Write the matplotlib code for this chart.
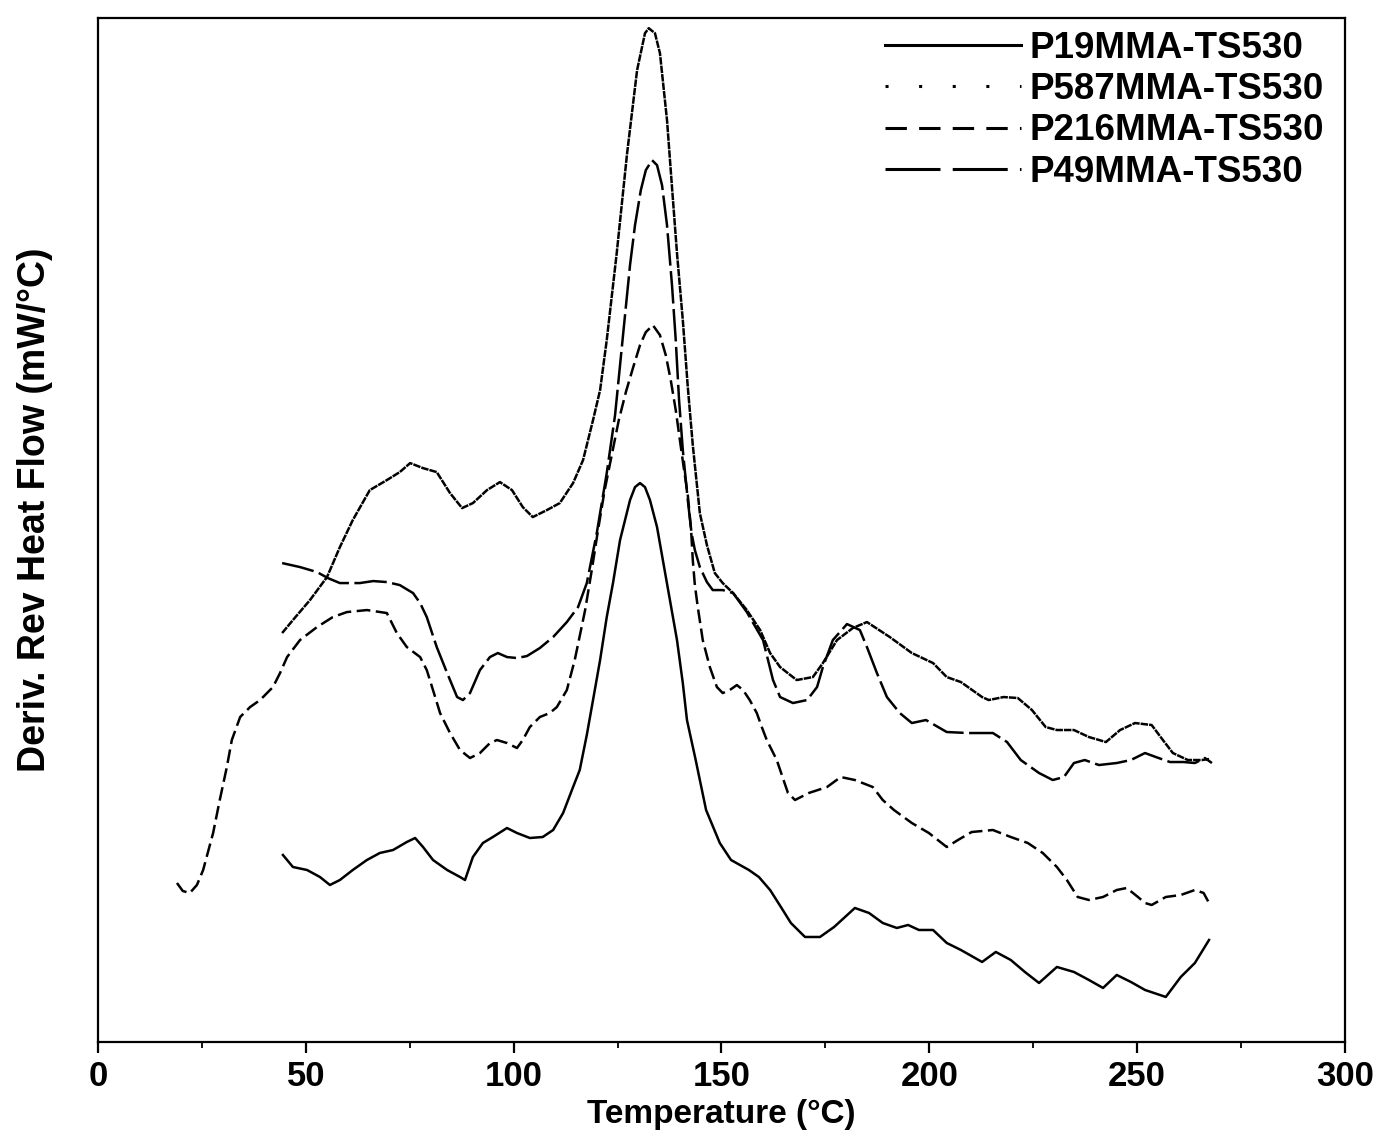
import matplotlib
matplotlib.use("Agg")
import matplotlib.pyplot as plt

plt.rcParams["font.family"] = ["Liberation Sans", "DejaVu Sans"]

# =========================
# DATA (arbitrary y units)
# =========================
labels = ["P19MMA-TS530", "P587MMA-TS530", "P216MMA-TS530", "P49MMA-TS530"]

t_p19 = [44.5, 46.9, 50.3, 53.4, 55.8, 58.2, 61.3, 64.7, 67.8, 71.0, 74.3, 76.3, 78.2,
         80.6, 84.0, 87.1, 88.3, 90.2, 92.6, 95.0, 98.4, 100.8, 103.9, 107.0, 109.5,
         111.9, 114.3, 115.9, 117.6, 119.1, 120.8, 122.4, 123.9, 125.6, 128.0, 129.2,
         130.4, 131.6, 132.8, 134.5, 135.9, 137.6, 139.3, 140.7, 141.7, 143.8, 146.3,
         149.6, 152.3, 156.6, 159.0, 161.7, 164.3, 166.7, 170.1, 173.7, 177.1, 182.1,
         185.5, 188.8, 192.2, 194.9, 197.5, 200.9, 204.2, 207.6, 212.7, 216.0, 219.6,
         223.0, 226.4, 230.7, 234.8, 238.4, 241.8, 245.1, 248.5, 251.9, 256.9, 260.5,
         263.9, 267.3]
v_p19 = [187, 175, 172, 165, 157, 162, 172, 182, 189, 192, 200, 204, 195,
         182, 172, 165, 162, 185, 199, 205, 214, 209, 204, 205, 212,
         229, 255, 272, 307, 342, 382, 425, 459, 502, 542, 555,
         559, 555, 542, 515, 482, 442, 402, 359, 322, 282, 232,
         199, 182, 172, 165, 152, 135, 119, 105, 105, 115, 134,
         129, 119, 114, 117, 112, 112, 99, 92, 80, 90, 82,
         70, 59, 75, 70, 62, 54, 67, 60, 52, 45, 65,
         79, 102]

t_p587 = [44.3, 46.9, 51.0, 55.1, 58.2, 61.3, 65.4, 69.5, 72.6, 75.1, 78.2, 81.5, 84.7,
          87.6, 90.2, 93.6, 96.7, 99.6, 102.2, 104.6, 108.0, 111.1, 114.3, 116.7, 119.1,
          120.8, 122.4, 124.8, 127.3, 129.7, 131.6, 132.5, 134.0, 135.2, 136.9, 138.1,
          139.3, 140.7, 141.9, 143.1, 144.8, 146.5, 148.4, 150.3, 152.8, 156.1, 159.3,
          161.7, 164.1, 168.1, 172.0, 174.4, 177.8, 181.6, 185.0, 190.5, 195.8, 200.9,
          204.2, 207.6, 212.7, 214.3, 217.9, 221.3, 224.7, 228.0, 230.7, 234.8, 238.4,
          242.5, 245.9, 249.5, 253.5, 256.2, 258.6, 262.2, 265.6, 267.3]
v_p587 = [409, 422, 442, 465, 495, 522, 552, 562, 570, 579, 574, 570, 549,
          534, 539, 552, 560, 552, 535, 525, 532, 539, 559, 582, 622,
          652, 702, 789, 889, 972, 1009, 1014, 1009, 989, 922, 855,
          789, 722, 655, 597, 529, 497, 469, 459, 449, 432, 412,
          389, 375, 362, 365, 379, 402, 414, 420, 405, 389, 379,
          365, 360, 345, 342, 345, 344, 332, 315, 312, 312, 305,
          300, 312, 319, 317, 302, 289, 282, 282, 283]

t_p216 = [19.0, 20.4, 22.1, 23.8, 25.3, 27.7, 29.3, 31.0, 32.2, 34.2, 36.6, 39.0, 42.1,
          43.8, 45.5, 48.6, 52.7, 56.5, 59.9, 64.7, 69.5, 71.9, 74.3, 77.5, 79.1, 80.6,
          82.3, 84.7, 87.1, 89.5, 91.9, 94.3, 96.0, 98.4, 100.8, 102.2, 103.9, 106.3,
          108.7, 110.4, 112.8, 114.7, 117.2, 118.8, 120.3, 121.9, 123.6, 125.3, 127.0,
          128.7, 130.4, 131.8, 133.5, 135.2, 136.6, 137.8, 139.0, 140.0, 140.9, 141.9,
          142.7, 143.1, 143.6, 144.3, 145.5, 147.2, 148.9, 150.3, 152.0, 153.7, 155.2,
          156.8, 158.5, 159.7, 160.9, 163.3, 166.0, 167.7, 171.0, 175.4, 178.7, 182.1,
          186.4, 188.8, 191.5, 195.8, 199.9, 204.2, 206.9, 210.2, 215.3, 219.6, 223.7,
          227.3, 230.7, 233.1, 235.7, 238.4, 241.8, 245.1, 247.5, 250.2, 251.9, 253.5,
          256.9, 260.5, 263.9, 266.0, 267.3]
v_p216 = [159, 151, 149, 157, 172, 209, 242, 275, 302, 325, 335, 342, 355,
          369, 385, 402, 415, 425, 430, 432, 429, 409, 395, 385, 372, 352,
          329, 309, 292, 284, 289, 299, 302, 299, 294, 302, 315, 325,
          329, 335, 352, 382, 432, 472, 512, 552, 587, 622, 650,
          674, 697, 710, 717, 707, 687, 662, 632, 602, 575, 547,
          512, 482, 457, 435, 402, 375, 355, 349, 352, 357, 352,
          342, 329, 315, 302, 282, 249, 242, 249, 255, 265, 262,
          255, 242, 232, 219, 209, 195, 202, 210, 212, 205, 199,
          189, 175, 162, 145, 142, 145, 152, 154, 145, 139, 137,
          145, 147, 152, 149, 139]

t_p49 = [44.3, 48.6, 52.7, 55.3, 58.2, 63.0, 66.2, 69.5, 72.6, 75.8, 77.5, 79.1, 81.5,
         84.0, 86.4, 87.8, 89.5, 91.9, 94.3, 96.2, 98.4, 100.8, 103.2, 106.3, 109.5,
         112.8, 115.5, 117.6, 120.0, 122.4, 124.4, 125.6, 126.8, 128.0, 129.2, 130.6,
         131.8, 133.3, 134.5, 135.7, 136.9, 138.1, 139.0, 139.8, 140.7, 141.9, 142.8,
         143.6, 144.8, 146.5, 147.9, 150.3, 152.8, 156.1, 160.0, 162.4, 164.1, 167.2,
         170.6, 173.0, 174.4, 176.8, 180.2, 183.3, 185.0, 187.4, 189.8, 192.9, 195.8,
         199.2, 204.2, 209.3, 215.3, 218.7, 222.0, 226.4, 229.7, 232.4, 234.8, 237.4,
         240.8, 245.1, 248.5, 251.9, 254.5, 257.9, 261.2, 263.9, 266.3, 268.0]
v_p49 = [479, 475, 470, 464, 459, 459, 461, 460, 457, 449, 439, 425, 395,
         369, 345, 342, 349, 372, 385, 389, 385, 384, 386, 394, 405,
         420, 435, 459, 509, 569, 627, 677, 727, 777, 817, 852,
         872, 882, 877, 857, 817, 757, 702, 642, 592, 542, 509,
         492, 475, 460, 452, 452, 449, 430, 402, 362, 345, 339,
         342, 355, 375, 402, 418, 412, 395, 369, 345, 329, 319,
         322, 310, 309, 309, 300, 282, 269, 262, 265, 279, 282,
         277, 279, 282, 289, 285, 280, 280, 279, 284, 279]

# =========================
# PLOT
# =========================
fig = plt.figure(figsize=(13.8, 11.38), dpi=100)
ax = fig.add_axes([0.071, 0.0844, 0.9036, 0.8996])

lw = 1.8
ax.plot(t_p19, v_p19, color="black", lw=lw, linestyle="-", label=labels[0])
ax.plot(t_p587, v_p587, color="black", lw=lw, linestyle=(0, (3.0, 0.4)), label=labels[1])
ax.plot(t_p216, v_p216, color="black", lw=lw, linestyle=(0, (5.5, 2.2)), label=labels[2])
ax.plot(t_p49, v_p49, color="black", lw=lw, linestyle=(0, (13, 2.2)), label=labels[3])

ax.set_xlim(0, 300)
ax.set_ylim(0, 1024)
ax.set_xticks(range(0, 301, 50))
ax.set_xticks(range(25, 300, 50), minor=True)
ax.set_yticks([])
ax.tick_params(axis="x", which="major", direction="out", length=8, width=1.6,
               labelsize=25, pad=5, top=False)
ax.tick_params(axis="x", which="minor", direction="out", length=4, width=1.3, top=False)
for lab in ax.get_xticklabels():
    lab.set_fontweight("bold")
for sp in ax.spines.values():
    sp.set_linewidth(1.6)

ax.set_xlabel("Temperature (°C)", fontsize=24, fontweight="bold", labelpad=4)
ax.set_ylabel("Deriv. Rev Heat Flow (mW/°C)", fontsize=27, fontweight="bold")
ax.yaxis.set_label_coords(-0.036, 0.52)

leg = ax.legend(loc="upper right", bbox_to_anchor=(0.995, 1.002), frameon=False,
                prop={"size": 26.5, "weight": "bold"}, handlelength=3.7,
                handletextpad=0.22, labelspacing=0.17, borderaxespad=0.0)
legend_styles = ["-", (0, (1, 10)), (0, (7, 4)), (0, (18, 4))]
for ln, st in zip(leg.get_lines(), legend_styles):
    ln.set_linestyle(st)
    ln.set_linewidth(2.2)

plt.savefig("out.png", dpi=100)
